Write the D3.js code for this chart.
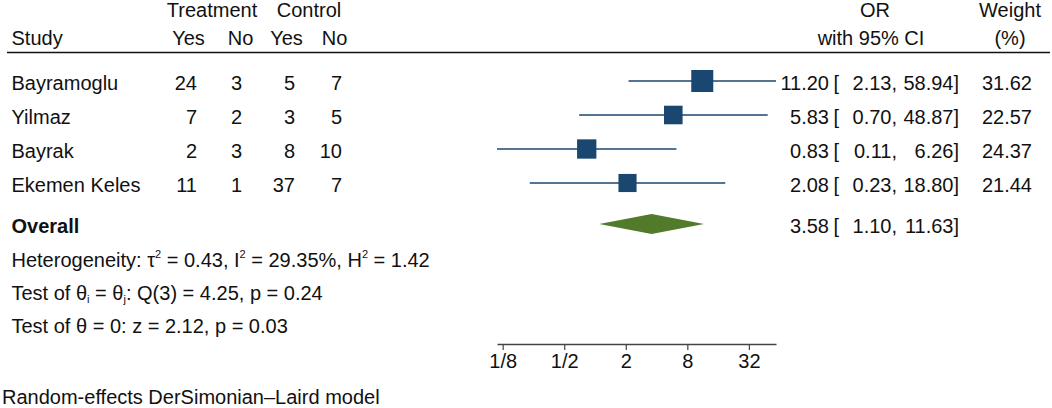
<!DOCTYPE html>
<html>
<head>
<meta charset="utf-8">
<script src="https://cdn.jsdelivr.net/npm/d3@7"></script>
<style>
	body { margin: 0; background: #fff; }
	svg text { font-family: 'Liberation Sans', Arial, sans-serif; font-size: 20px; fill: #111; }
</style>
</head>
<body>
<svg id="forest" width="1052" height="408"></svg>
<script>
'use strict';

var aStudies = ['Bayramoglu', 'Yilmaz', 'Bayrak', 'Ekemen Keles'];
var aTrtYes = [24, 7, 2, 11];
var aTrtNo = [3, 2, 3, 1];
var aCtrlYes = [5, 3, 8, 37];
var aCtrlNo = [7, 5, 10, 7];
var aOR = [11.20, 5.83, 0.83, 2.08];
var aLower = [2.13, 0.70, 0.11, 0.23];
var aUpper = [58.94, 48.87, 6.26, 18.80];
var aWeight = [31.62, 22.57, 24.37, 21.44];
var aOverall = [3.58, 1.10, 11.63];
var aTickValues = [0.125, 0.5, 2, 8, 32];
var aTickLabels = ['1/8', '1/2', '2', '8', '32'];

function DrawForest(vSelector)
{
	var sSvg = d3.select(vSelector);
	if (sSvg.empty() == true)
	{
		console.log('DrawForest: no element for selector ' + vSelector);
		return;
	}

	var nNavy = '#1a476f';
	var nGreen = '#517a2a';

	var scaleX = d3.scaleLog().base(2)
		.domain([d3.min(aLower), d3.max(aUpper)])
		.range([497, 776]);

	var scaleY = d3.scalePoint()
		.domain(aStudies)
		.range([81, 183]);

	var scaleSize = d3.scaleSqrt()
		.domain([0, d3.max(aWeight)])
		.range([0, 22]);

	var nOverallY = 224;
	var nAxisY = 344;

	// header
	var aHeader = [
		{t: 'Treatment', x: 212, y: 16.7, a: 'middle'},
		{t: 'Control', x: 309, y: 16.7, a: 'middle'},
		{t: 'Study', x: 11.5, y: 45, a: 'start'},
		{t: 'Yes', x: 188.5, y: 45, a: 'middle'},
		{t: 'No', x: 240.5, y: 45, a: 'middle'},
		{t: 'Yes', x: 286.5, y: 45, a: 'middle'},
		{t: 'No', x: 334.5, y: 45, a: 'middle'},
		{t: 'OR', x: 875, y: 16.7, a: 'middle'},
		{t: 'with 95% CI', x: 871, y: 45, a: 'middle'},
		{t: 'Weight', x: 1010, y: 16.7, a: 'middle'},
		{t: '(%)', x: 1010, y: 45, a: 'middle'}
	];
	sSvg.append('g').selectAll('text')
		.data(aHeader)
		.enter()
			.append('text')
				.attr('x', function(d) { return d.x; })
				.attr('y', function(d) { return d.y; })
				.style('text-anchor', function(d) { return d.a; })
				.text(function(d) { return d.t; });

	sSvg.append('line')
		.attr('x1', 7).attr('x2', 1050)
		.attr('y1', 52.5).attr('y2', 52.5)
		.attr('stroke', '#111')
		.attr('stroke-width', 1.5);

	// study rows
	var aRows = aStudies.map(function(s, i)
	{
		return {study: s, cells: [aTrtYes[i], aTrtNo[i], aCtrlYes[i], aCtrlNo[i]],
			or: aOR[i], lo: aLower[i], hi: aUpper[i], w: aWeight[i]};
	});

	var aCellX = [197, 242, 295, 342];

	var sRows = sSvg.selectAll('.row')
		.data(aRows)
		.enter()
			.append('g')
				.attr('class', 'row')
				.attr('transform', function(d) { return 'translate(0,' + scaleY(d.study) + ')'; });

	sRows.append('text')
		.attr('x', 11.5)
		.attr('y', 9)
		.text(function(d) { return d.study; });

	sRows.selectAll('.cell')
		.data(function(d) { return d.cells; })
		.enter()
			.append('text')
				.attr('class', 'cell')
				.attr('x', function(d, i) { return aCellX[i]; })
				.attr('y', 9)
				.style('text-anchor', 'end')
				.text(function(d) { return d; });

	sRows.append('line')
		.attr('x1', function(d) { return scaleX(d.lo); })
		.attr('x2', function(d) { return scaleX(d.hi); })
		.attr('stroke', nNavy)
		.attr('stroke-width', 1.6);

	sRows.append('rect')
		.attr('x', function(d) { return scaleX(d.or) - scaleSize(d.w) / 2; })
		.attr('y', function(d) { return -scaleSize(d.w) / 2; })
		.attr('width', function(d) { return scaleSize(d.w); })
		.attr('height', function(d) { return scaleSize(d.w); })
		.attr('fill', nNavy);

	// estimate [lower, upper] in three aligned pieces
	function AddEstimate(sGroup, fGet)
	{
		sGroup.append('text')
			.attr('x', 829).attr('y', 9)
			.style('text-anchor', 'end')
			.text(function(d) { return fGet(d)[0].toFixed(2); });
		sGroup.append('text')
			.attr('x', 833.5).attr('y', 9)
			.text('[');
		sGroup.append('text')
			.attr('x', 897).attr('y', 9)
			.style('text-anchor', 'end')
			.text(function(d) { return fGet(d)[1].toFixed(2) + ','; });
		sGroup.append('text')
			.attr('x', 959).attr('y', 9)
			.style('text-anchor', 'end')
			.text(function(d) { return fGet(d)[2].toFixed(2) + ']'; });
	}

	AddEstimate(sRows, function(d) { return [d.or, d.lo, d.hi]; });

	sRows.append('text')
		.attr('x', 1032).attr('y', 9)
		.style('text-anchor', 'end')
		.text(function(d) { return d.w.toFixed(2); });

	// overall
	var sOverall = sSvg.append('g')
		.datum(aOverall)
		.attr('transform', 'translate(0,' + nOverallY + ')');

	sOverall.append('text')
		.attr('x', 11.5).attr('y', 8.5)
		.style('font-weight', 'bold')
		.text('Overall');

	sOverall.append('path')
		.attr('d', function(d)
		{
			return 'M' + scaleX(d[1]) + ',0L' + scaleX(d[0]) + ',-10L' + scaleX(d[2]) + ',0L' + scaleX(d[0]) + ',10Z';
		})
		.attr('fill', nGreen);

	AddEstimate(sOverall, function(d) { return d; });

	// statistics text
	var t1 = sSvg.append('text').attr('x', 11.5).attr('y', 266.7);
	t1.append('tspan').text('Heterogeneity: τ');
	t1.append('tspan').attr('dy', -9).style('font-size', '11px').text('2');
	t1.append('tspan').attr('dy', 9).text(' = 0.43, I');
	t1.append('tspan').attr('dy', -9).style('font-size', '11px').text('2');
	t1.append('tspan').attr('dy', 9).text(' = 29.35%, H');
	t1.append('tspan').attr('dy', -9).style('font-size', '11px').text('2');
	t1.append('tspan').attr('dy', 9).text(' = 1.42');

	var t2 = sSvg.append('text').attr('x', 11.5).attr('y', 300);
	t2.append('tspan').text('Test of θ');
	t2.append('tspan').attr('dy', 3).style('font-size', '11px').text('i');
	t2.append('tspan').attr('dy', -3).text(' = θ');
	t2.append('tspan').attr('dy', 3).style('font-size', '11px').text('j');
	t2.append('tspan').attr('dy', -3).text(': Q(3) = 4.25, p = 0.24');

	sSvg.append('text').attr('x', 11.5).attr('y', 332.7)
		.text('Test of θ = 0: z = 2.12, p = 0.03');

	sSvg.append('text').attr('x', 2).attr('y', 404)
		.text('Random-effects DerSimonian\u2013Laird model');

	// axis
	var axisX = d3.axisBottom(scaleX)
		.tickValues(aTickValues)
		.tickFormat(function(d, i) { return aTickLabels[i]; })
		.tickSize(6)
		.tickSizeOuter(0)
		.tickPadding(4);

	var sAxis = sSvg.append('g')
		.attr('transform', 'translate(0,' + nAxisY + ')')
		.call(axisX);

	sAxis.select('.domain').attr('stroke', '#444').attr('stroke-width', 1.4);
	sAxis.selectAll('.tick line').attr('stroke', '#444').attr('stroke-width', 1.2);
	sAxis.selectAll('.tick text')
		.attr('fill', '#111')
		.style('font-size', '20px')
		.style('font-family', "'Liberation Sans', Arial, sans-serif");
}

DrawForest('#forest');
</script>
</body>
</html>
